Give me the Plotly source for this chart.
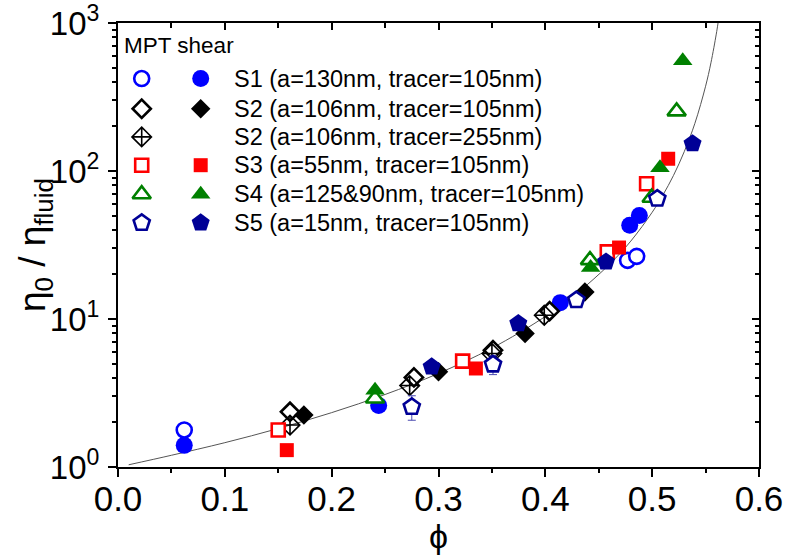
import plotly.graph_objects as go

# ---- measured data: volume fraction phi and relative zero-shear viscosity ----
s1_open_phi = [0.062, 0.477, 0.4855]
s1_open_eta = [1.78, 24.9, 26.5]
s1_fill_phi = [0.062, 0.244, 0.414, 0.479, 0.488]
s1_fill_eta = [1.40, 2.60, 12.9, 43.0, 50.0]

s2_open_phi = [0.161, 0.277, 0.351, 0.404]
s2_open_eta = [2.36, 4.03, 6.16, 11.3]
s2_fill_phi = [0.174, 0.300, 0.381, 0.437]
s2_fill_eta = [2.25, 4.40, 7.98, 15.2]
s2b_phi = [0.161, 0.273, 0.350, 0.399]
s2b_eta = [1.92, 3.55, 5.85, 10.6]

s3_open_phi = [0.150, 0.3226, 0.458, 0.4948]
s3_open_eta = [1.78, 5.19, 28.4, 82.0]
s3_fill_phi = [0.158, 0.335, 0.469, 0.515]
s3_fill_eta = [1.30, 4.63, 30.4, 121.0]

s4_open_phi = [0.2406, 0.4418, 0.4995, 0.5229]
s4_open_eta = [2.90, 25.0, 66.0, 253.0]
s4_fill_phi = [0.2406, 0.4424, 0.5073, 0.5286]
s4_fill_eta = [3.30, 22.3, 105.0, 555.0]

s5_open_phi = [0.275, 0.351, 0.429, 0.5048]
s5_open_eta = [2.55, 4.93, 13.4, 65.0]
s5_open_err = [0.48, 0.72, 0.0, 0.0]
s5_fill_phi = [0.2936, 0.3747, 0.4568, 0.5378]
s5_fill_eta = [4.75, 9.33, 24.3, 153.0]

# hard-sphere viscosity curve
curve_phi = [0.01, 0.05, 0.10, 0.15, 0.20, 0.25, 0.30, 0.35, 0.40, 0.43, 0.46,
             0.48, 0.50, 0.51, 0.52, 0.53, 0.54, 0.55, 0.555, 0.56, 0.5615, 0.565]
curve_eta = [1.035, 1.20, 1.46, 1.82, 2.33, 3.09, 4.29, 6.36, 10.4, 15.0, 23.4,
             33.6, 52.6, 68.7, 93.4, 135.0, 210.0, 374.0, 538.0, 841.0, 983.0, 1490.0]

x_ticks = [0.0, 0.1, 0.2, 0.3, 0.4, 0.5, 0.6]
y_ticks = [1, 10, 100, 1000]
y_ticktext = ["10<sup>0</sup>", "10<sup>1</sup>", "10<sup>2</sup>", "10<sup>3</sup>"]

legend_title = "MPT shear"
legend_labels = [
    "S1 (a=130nm, tracer=105nm)",
    "S2 (a=106nm, tracer=105nm)",
    "S2 (a=106nm, tracer=255nm)",
    "S3 (a=55nm, tracer=105nm)",
    "S4 (a=125&90nm, tracer=105nm)",
    "S5 (a=15nm, tracer=105nm)",
]

BLUE = "#0000ff"
BLACK = "#000000"
RED = "#ff0000"
GREEN = "#008000"
NAVY = "#000096"
FONT = "Liberation Sans, Arial, sans-serif"

# marker styles: (symbol, size, color, open?)
styles = {
    "s1o": ("circle", 15, BLUE, True), "s1f": ("circle", 17, BLUE, False),
    "s2o": ("diamond", 14, BLACK, True), "s2f": ("diamond", 15, BLACK, False),
    "s2b": ("diamond-cross-open", 15, BLACK, None),
    "s3o": ("square", 13, RED, True), "s3f": ("square", 14, RED, False),
    "s4o": ("triangle-up", 16, GREEN, True), "s4f": ("triangle-up", 17, GREEN, False),
    "s5o": ("pentagon", 17, NAVY, True), "s5f": ("pentagon", 19, NAVY, False),
}


def marker(key):
    sym, size, col, is_open = styles[key]
    if is_open is None:
        return dict(symbol=sym, size=size, color=col, line=dict(color=col, width=1.6))
    if is_open:
        return dict(symbol=sym, size=size, color="white", line=dict(color=col, width=2.6))
    return dict(symbol=sym, size=size, color=col, line=dict(color=col, width=0))


fig = go.Figure()

fig.add_trace(go.Scatter(x=curve_phi, y=curve_eta, mode="lines",
                         line=dict(color="#555555", width=1, shape="spline"),
                         showlegend=False, hoverinfo="skip"))

series = [
    ("s1o", s1_open_phi, s1_open_eta, None),
    ("s1f", s1_fill_phi, s1_fill_eta, None),
    ("s2o", s2_open_phi, s2_open_eta, None),
    ("s2b", s2b_phi, s2b_eta, None),
    ("s2f", s2_fill_phi, s2_fill_eta, None),
    ("s3o", s3_open_phi, s3_open_eta, None),
    ("s3f", s3_fill_phi, s3_fill_eta, None),
    ("s4o", s4_open_phi, s4_open_eta, None),
    ("s4f", s4_fill_phi, s4_fill_eta, None),
    ("s5o", s5_open_phi, s5_open_eta, s5_open_err),
    ("s5f", s5_fill_phi, s5_fill_eta, None),
]
for key, xs, ys, err in series:
    kw = {}
    if err is not None:
        kw["error_y"] = dict(type="data", array=err, visible=True,
                             color="#4a4ab0", thickness=1, width=4)
    fig.add_trace(go.Scatter(x=xs, y=ys, mode="markers", marker=marker(key),
                             showlegend=False, **kw))

# inward ticks on the top and right frame
fig.add_trace(go.Scatter(x=[None], y=[None], xaxis="x2", yaxis="y2",
                         showlegend=False, hoverinfo="skip"))

# legend block drawn on a unit overlay axis
L_X0, L_X1, L_Y0, L_Y1 = 118.0, 759.0, 467.0, 22.7


def fx(px):
    return (px - L_X0) / (L_X1 - L_X0)


def fy(py):
    return (L_Y0 - py) / (L_Y0 - L_Y1)


row_py = [78.3, 108.5, 136.7, 165.0, 194.0, 222.7]
row_keys = [("s1o", "s1f"), ("s2o", "s2f"), ("s2b", None),
            ("s3o", "s3f"), ("s4o", "s4f"), ("s5o", "s5f")]
for py, (ko, kf) in zip(row_py, row_keys):
    fig.add_trace(go.Scatter(x=[fx(141.7)], y=[fy(py)], mode="markers",
                             marker=marker(ko), xaxis="x3", yaxis="y3",
                             showlegend=False, hoverinfo="skip"))
    if kf:
        fig.add_trace(go.Scatter(x=[fx(200.7)], y=[fy(py)], mode="markers",
                                 marker=marker(kf), xaxis="x3", yaxis="y3",
                                 showlegend=False, hoverinfo="skip"))

annotations = [dict(x=fx(122.0), y=fy(45.0), xref="paper", yref="paper",
                    text=legend_title, showarrow=False, xanchor="left",
                    yanchor="middle", font=dict(family=FONT, size=22.5, color="black"))]
for py, lab in zip(row_py, legend_labels):
    annotations.append(dict(x=fx(232.0), y=fy(py), xref="paper", yref="paper",
                            text=lab, showarrow=False, xanchor="left", yanchor="middle",
                            font=dict(family=FONT, size=23.5, color="black")))

# axis titles
annotations.append(dict(x=fx(438.0), y=fy(536.0), xref="paper", yref="paper",
                        text="ϕ", showarrow=False, xanchor="center", yanchor="middle",
                        font=dict(family=FONT, size=34, color="black")))
annotations.append(dict(x=fx(35.0), y=0.5, xref="paper", yref="paper",
                        text="η<sub>0</sub> / η<sub>fluid</sub>", showarrow=False,
                        textangle=-90, xanchor="center", yanchor="middle",
                        font=dict(family=FONT, size=37, color="black")))

xtickfont = dict(family=FONT, size=35, color="black")
ytickfont = dict(family=FONT, size=33, color="black")
minor_y = [m * 10 ** e for e in range(0, 3) for m in range(2, 10)]
y_range = [0, 3]

fig.update_layout(
    width=785, height=558,
    margin=dict(l=118, r=26, t=23, b=91, autoexpand=False),
    paper_bgcolor="white", plot_bgcolor="white",
    annotations=annotations,
    xaxis=dict(range=[0, 0.6], tickvals=x_ticks, ticktext=[f"{v:.1f}" for v in x_ticks],
               showline=True, linecolor="black", linewidth=2, ticks="outside",
               ticklen=8, tickwidth=2, tickcolor="black", showgrid=False, zeroline=False,
               tickfont=xtickfont, ticklabelstandoff=-8, ticklabeloverflow="allow",
               automargin=False,
               minor=dict(tickvals=[0.05, 0.15, 0.25, 0.35, 0.45, 0.55], ticks="outside",
                          ticklen=4, tickwidth=1.5, tickcolor="black", showgrid=False)),
    yaxis=dict(type="log", range=y_range, tickvals=y_ticks, ticktext=y_ticktext,
               showline=True, linecolor="black", linewidth=2, ticks="outside",
               ticklen=8, tickwidth=2, tickcolor="black", showgrid=False, zeroline=False,
               tickfont=ytickfont, ticklabelstandoff=2, ticklabeloverflow="allow",
               automargin=False,
               minor=dict(tickvals=minor_y, ticks="outside", ticklen=4, tickwidth=1.5,
                          tickcolor="black", showgrid=False)),
    xaxis2=dict(range=[0, 0.6], overlaying="x", side="top", anchor="y2",
                showline=True, linecolor="black", linewidth=2, ticks="inside",
                tickvals=x_ticks, ticklen=7, tickwidth=1.5, tickcolor="black",
                showticklabels=False, showgrid=False, zeroline=False, automargin=False,
                minor=dict(tickvals=[0.05, 0.15, 0.25, 0.35, 0.45, 0.55], ticks="inside",
                           ticklen=5, tickwidth=1.5, tickcolor="black", showgrid=False)),
    yaxis2=dict(type="log", range=y_range, overlaying="y", side="right", anchor="x2",
                showline=True, linecolor="black", linewidth=2, ticks="inside",
                tickvals=y_ticks, ticklen=7, tickwidth=1.5, tickcolor="black",
                showticklabels=False, showgrid=False, zeroline=False, automargin=False,
                minor=dict(tickvals=minor_y, ticks="inside", ticklen=4, tickwidth=1.5,
                           tickcolor="black", showgrid=False)),
    xaxis3=dict(range=[0, 1], overlaying="x", anchor="y3", visible=False, fixedrange=True),
    yaxis3=dict(range=[0, 1], overlaying="y", anchor="x3", visible=False, fixedrange=True),
)

fig.write_html("out.html")
